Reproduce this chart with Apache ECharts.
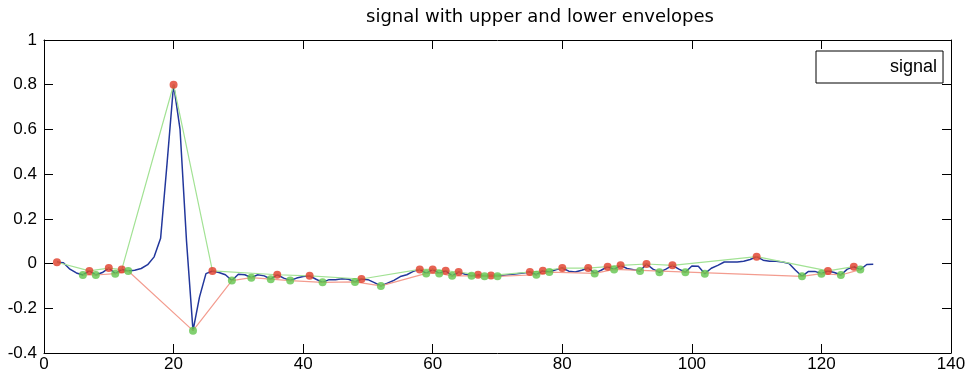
<!DOCTYPE html>
<html>
<head>
<meta charset="utf-8">
<script src="https://cdn.jsdelivr.net/npm/echarts@6/dist/echarts.min.js"></script>
<style>
  html, body { margin: 0; padding: 0; background: #fff; }
  #chart { width: 969px; height: 376px; }
</style>
</head>
<body>
<div id="chart"></div>
<script>
// Chart text and axis ticks
const titleText = 'signal with upper and lower envelopes';
const legendName = 'signal';
const xTicks = [0, 20, 40, 60, 80, 100, 120, 140];
const yTicks = [-0.4, -0.2, 0, 0.2, 0.4, 0.6, 0.8, 1];

// Signal samples, one per integer x starting at signalStart
const signalStart = 2;
const signalValues = [
  0.006, 0.004, -0.025, -0.042, -0.051, -0.033, -0.051, -0.040, -0.020, -0.045,   // 2..11
  -0.027, -0.033, -0.030, -0.022, -0.005, 0.030, 0.113, 0.450, 0.800, 0.600,      // 12..21
  0.100, -0.300, -0.150, -0.045, -0.033, -0.040, -0.050, -0.076, -0.048, -0.050,  // 22..31
  -0.063, -0.050, -0.055, -0.070, -0.050, -0.065, -0.076, -0.065, -0.058, -0.055, // 32..41
  -0.070, -0.084, -0.072, -0.072, -0.068, -0.070, -0.082, -0.069, -0.072, -0.085, // 42..51
  -0.100, -0.088, -0.075, -0.058, -0.050, -0.035, -0.026, -0.044, -0.026, -0.044, // 52..61
  -0.032, -0.055, -0.038, -0.048, -0.055, -0.050, -0.057, -0.053, -0.057, -0.052, // 62..71
  -0.049, -0.046, -0.042, -0.038, -0.050, -0.032, -0.038, -0.028, -0.020, -0.034, // 72..81
  -0.038, -0.030, -0.020, -0.044, -0.030, -0.014, -0.026, -0.008, -0.022, -0.028, // 82..91
  -0.033, -0.002, -0.025, -0.039, -0.025, -0.008, -0.025, -0.039, -0.011, -0.012, // 92..101
  -0.045, -0.021, -0.008, 0.007, 0.007, 0.007, 0.010, 0.018, 0.031, 0.015,        // 102..111
  0.010, 0.010, 0.007, 0.000, -0.030, -0.057, -0.035, -0.035, -0.045, -0.033,     // 112..121
  -0.040, -0.051, -0.025, -0.014, -0.027, -0.004, -0.003                          // 122..128
];

// Positions of detected maxima (upper) and minima (lower)
const upperPeakX = [2, 7, 10, 12, 20, 26, 36, 41, 49, 58, 60, 62, 64, 67, 69, 75, 77, 80, 84, 87, 89, 93, 97, 110, 121, 125];
const lowerPeakX = [6, 8, 11, 13, 23, 29, 32, 35, 38, 43, 48, 52, 59, 61, 63, 66, 68, 70, 76, 78, 85, 88, 92, 95, 99, 102, 117, 120, 123, 126];
// Knots the envelope curves pass through
const upperEnvX = [2, 7, 10, 12, 20, 26, 36, 41, 49, 58, 60, 62, 64, 67, 69, 75, 77, 80, 84, 87, 89, 93, 97, 110, 121, 125];
const lowerEnvX = [6, 8, 11, 13, 23, 29, 32, 35, 38, 43, 48, 52, 59, 61, 63, 66, 68, 70, 76, 78, 85, 88, 117, 120, 123, 126];

const valueAt = x => signalValues[x - signalStart];
const signalData = signalValues.map((v, i) => [signalStart + i, v]);
const pointsAt = xs => xs.map(x => [x, valueAt(x)]);

const TICK_FONT = 'Liberation Sans';
const fmt = v => String(Math.round(v * 10) / 10);

const boxAxisX = (pos, labels) => ({
  type: 'value', position: pos,
  min: xTicks[0], max: xTicks[xTicks.length - 1], interval: 20,
  axisLine: { show: true, onZero: false, lineStyle: { color: '#000', width: 1 } },
  axisTick: { show: true, inside: true, length: 9, lineStyle: { color: '#000', width: 1 } },
  axisLabel: { show: labels, margin: 3, fontFamily: TICK_FONT, fontSize: 17, color: '#000' },
  splitLine: { show: false }
});
const boxAxisY = (pos, labels) => ({
  type: 'value', position: pos,
  min: yTicks[0], max: yTicks[yTicks.length - 1], interval: 0.2,
  axisLine: { show: true, onZero: false, lineStyle: { color: '#000', width: 1 } },
  axisTick: { show: true, inside: true, length: 9, lineStyle: { color: '#000', width: 1 } },
  axisLabel: { show: labels, margin: 7, fontFamily: TICK_FONT, fontSize: 17, color: '#000', formatter: fmt },
  splitLine: { show: false }
});

const chart = echarts.init(document.getElementById('chart'), null, { renderer: 'canvas' });
chart.setOption({
  animation: false,
  backgroundColor: '#fff',
  grid: { left: 44, right: 18, top: 40, bottom: 23, outerBoundsMode: 'none' },
  graphic: [{
    type: 'text', left: 366, top: 8, z: 10,
    style: { text: titleText, font: '18px "DejaVu Sans"', fill: '#000' }
  }],
  legend: {
    data: [{ name: legendName, icon: 'none' }],
    left: 816, top: 51, orient: 'horizontal',
    padding: [7, 6, 7, 5], itemWidth: 64, itemHeight: 18,
    borderColor: '#000', borderWidth: 1, backgroundColor: '#fff',
    selectedMode: false,
    textStyle: { fontFamily: TICK_FONT, fontSize: 18, color: '#000' }
  },
  xAxis: [boxAxisX('bottom', true), boxAxisX('top', false)],
  yAxis: [boxAxisY('left', true), boxAxisY('right', false)],
  series: [
    {
      name: legendName, type: 'line', data: signalData, showSymbol: false,
      lineStyle: { color: '#22379c', width: 1.5 }, z: 2
    },
    {
      name: 'upper envelope', type: 'line', data: pointsAt(upperEnvX), showSymbol: false,
      lineStyle: { color: '#a2e294', width: 1.2 }, z: 3
    },
    {
      name: 'lower envelope', type: 'line', data: pointsAt(lowerEnvX), showSymbol: false,
      lineStyle: { color: '#f39c8f', width: 1.2 }, z: 3
    },
    {
      name: 'maxima', type: 'scatter', data: pointsAt(upperPeakX), symbolSize: 8,
      itemStyle: { color: '#e03c28' }, z: 4
    },
    {
      name: 'minima', type: 'scatter', data: pointsAt(lowerPeakX), symbolSize: 8,
      itemStyle: { color: '#62c44c' }, z: 4
    }
  ]
});
</script>
</body>
</html>
